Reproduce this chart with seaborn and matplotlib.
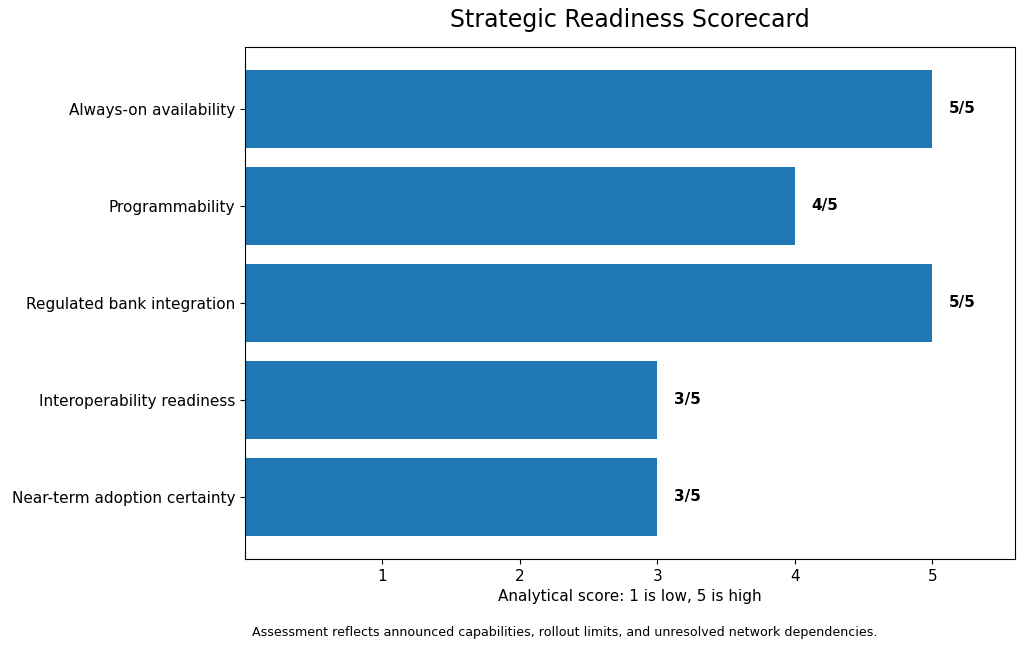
import matplotlib
matplotlib.use("Agg")
import matplotlib.pyplot as plt
import seaborn as sns
import pandas as pd

# chart data
criteria = [
    "Always-on availability",
    "Programmability",
    "Regulated bank integration",
    "Interoperability readiness",
    "Near-term adoption certainty",
]
scores = [5, 4, 5, 3, 3]
max_score = 5
score_ticks = [1, 2, 3, 4, 5]

df = pd.DataFrame({"criterion": criteria, "score": scores})

fig = plt.figure(figsize=(10.24, 6.49), dpi=100)
ax = fig.add_axes([0.239, 0.139, 0.752, 0.789])

sns.barplot(data=df, x="score", y="criterion", orient="h",
            color="#1f77b4", saturation=1, width=0.8, ax=ax)

# score labels next to bars
for i, s in enumerate(scores):
    ax.text(s + 0.12, i, f"{s}/{max_score}", va="center", ha="left",
            fontsize=11, fontweight="bold")

ax.set_xlim(0, 5.6)
ax.set_ylim(len(criteria) - 1 + 0.64, -0.64)
ax.set_xticks(score_ticks)
ax.tick_params(axis="both", labelsize=11)
ax.set_ylabel("")
ax.set_xlabel("Analytical score: 1 is low, 5 is high", fontsize=11)
ax.set_title("Strategic Readiness Scorecard", fontsize=17, pad=14)

fig.text(0.551, 0.026,
         "Assessment reflects announced capabilities, rollout limits, and unresolved network dependencies.",
         ha="center", va="center", fontsize=9.1)

fig.savefig("out.png", dpi=100)
